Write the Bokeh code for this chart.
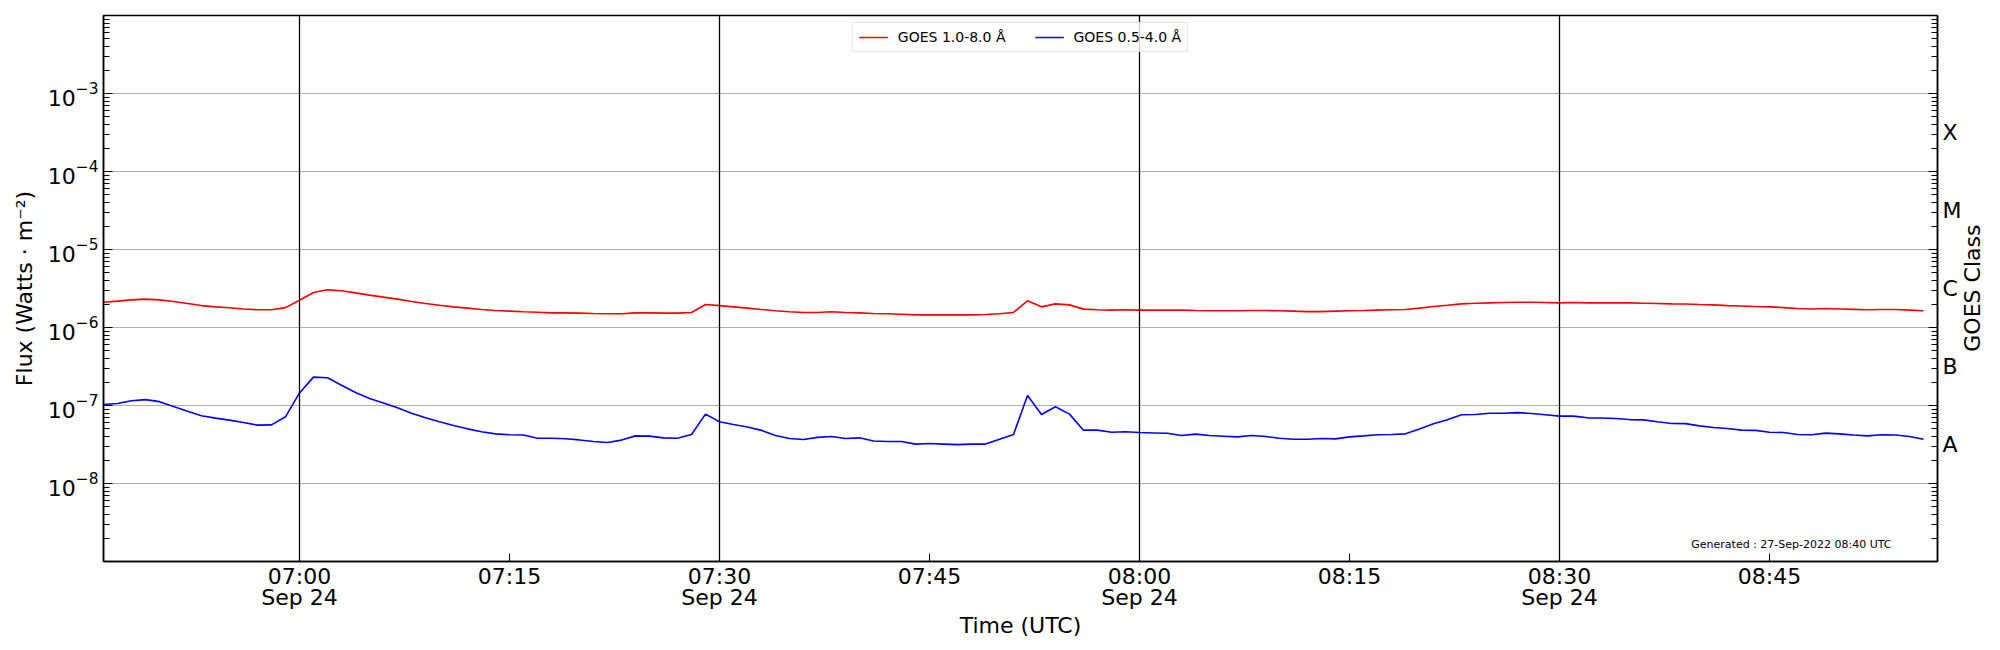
import math
import pandas as pd
from bokeh.plotting import figure
from bokeh.models import (Range1d, FixedTicker, LogAxis, Span, Legend, LegendItem,
                          Label, ColumnDataSource)
from bokeh.embed import file_html
from bokeh.resources import INLINE

# ---------------- data ----------------
start_time = "2022-09-24 06:46"
end_time = "2022-09-24 08:57"
n_minutes = 131

# GOES 1.0-8.0 A flux, W m^-2 (x 1e-6)
long_flux_e6 = [
    2.11, 2.18, 2.26, 2.31, 2.26, 2.15, 2.03, 1.91, 1.84, 1.79, 1.73, 1.69, 1.69, 1.80,
    2.24, 2.81, 3.04, 2.96, 2.78, 2.60, 2.45, 2.31, 2.15, 2.03, 1.93, 1.84, 1.77, 1.70,
    1.65, 1.62, 1.59, 1.57, 1.54,
    1.54, 1.53, 1.51, 1.50, 1.50, 1.54, 1.54, 1.53, 1.53, 1.56, 1.97, 1.91, 1.84, 1.77,
    1.70, 1.64, 1.59, 1.56, 1.56, 1.59, 1.56, 1.54, 1.51, 1.50, 1.48, 1.45, 1.45, 1.45,
    1.45, 1.45, 1.47, 1.50, 1.56,
    2.20, 1.84, 2.01, 1.95, 1.72, 1.69, 1.67, 1.69, 1.67, 1.67, 1.67, 1.67, 1.65, 1.64,
    1.64, 1.64, 1.65, 1.65, 1.64, 1.62, 1.60, 1.60, 1.62, 1.64, 1.65, 1.67, 1.69, 1.70,
    1.77, 1.86, 1.93, 2.01, 2.05,
    2.07, 2.09, 2.11, 2.11, 2.09, 2.07, 2.09, 2.07, 2.07, 2.07, 2.07, 2.05, 2.03, 2.01,
    2.00, 1.97, 1.95, 1.91, 1.89, 1.86, 1.84, 1.80, 1.75, 1.73, 1.75, 1.73, 1.71, 1.69,
    1.70, 1.70, 1.67, 1.64,
]

# GOES 0.5-4.0 A flux, W m^-2 (x 1e-8)
short_flux_e8 = [
    10.3, 10.6, 11.5, 11.9, 11.2, 9.7, 8.45, 7.38, 6.89, 6.49, 6.06, 5.60, 5.65, 7.16,
    14.5, 23.1, 22.7, 18.2, 14.7, 12.3, 10.8, 9.33, 7.97, 6.95, 6.18, 5.55, 5.02, 4.60,
    4.33, 4.22, 4.18, 3.81, 3.81,
    3.74, 3.62, 3.45, 3.35, 3.60, 4.08, 4.05, 3.85, 3.80, 4.25, 7.75, 6.18, 5.70, 5.30,
    4.80, 4.12, 3.77, 3.67, 3.90, 4.00, 3.77, 3.85, 3.50, 3.45, 3.45, 3.20, 3.25, 3.20,
    3.15, 3.20, 3.20, 3.70, 4.25,
    13.4, 7.67, 9.62, 7.75, 4.83, 4.83, 4.55, 4.60, 4.50, 4.45, 4.40, 4.12, 4.30, 4.12,
    4.04, 3.96, 4.12, 4.00, 3.81, 3.70, 3.70, 3.77, 3.73, 3.96, 4.08, 4.22, 4.25, 4.33,
    4.98, 5.82, 6.55, 7.60, 7.67,
    7.97, 7.97, 8.10, 7.90, 7.60, 7.30, 7.30, 6.95, 6.90, 6.80, 6.60, 6.55, 6.18, 5.88,
    5.85, 5.48, 5.22, 5.08, 4.83, 4.80, 4.55, 4.50, 4.25, 4.22, 4.43, 4.33, 4.18, 4.08,
    4.22, 4.18, 4.00, 3.70,
]

x_tick_times = ["07:00", "07:15", "07:30", "07:45", "08:00", "08:15", "08:30", "08:45"]
x_tick_labels = ["07:00\nSep 24", "07:15", "07:30\nSep 24", "07:45",
                 "08:00\nSep 24", "08:15", "08:30\nSep 24", "08:45"]
day_mark_times = ["07:00", "07:30", "08:00", "08:30"]

y_decades = [-8, -7, -6, -5, -4, -3]
goes_classes = ["A", "B", "C", "M", "X"]
goes_class_exponents = [-7.5, -6.5, -5.5, -4.5, -3.5]

legend_labels = ["GOES 1.0-8.0 Å", "GOES 0.5-4.0 Å"]
series_colors = ["#ff0000", "#0000ff"]
generated_text = "Generated : 27-Sep-2022 08:40 UTC"
right_title = "GOES Class"

# ---------------- helpers ----------------
def ms(hhmm):
    return float(pd.Timestamp("2022-09-24 " + hhmm).value // 10**6)

times = pd.date_range(start_time, periods=n_minutes, freq="1min")
src = ColumnDataSource(dict(
    t=times,
    long=[v * 1e-6 for v in long_flux_e6],
    short=[v * 1e-8 for v in short_flux_e8],
))

FONT = "DejaVu Sans"
FS = "22px"
FW, FH = 1834, 546

p = figure(x_axis_type="datetime", y_axis_type="log",
           frame_width=FW, frame_height=FH,
           min_border_left=103, min_border_top=15, min_border_right=56, min_border_bottom=80,
           x_range=Range1d(float(pd.Timestamp(start_time).value // 10**6),
                           float(pd.Timestamp(end_time).value // 10**6)),
           y_range=Range1d(1e-9, 1e-2),
           output_backend="svg", toolbar_location=None)

p.outline_line_color = "black"
p.outline_line_width = 1.5
p.background_fill_color = "white"
p.border_fill_color = "white"

def style_text(ax):
    ax.axis_label_text_font = FONT
    ax.axis_label_text_font_size = FS
    ax.axis_label_text_font_style = "normal"
    ax.axis_label_text_color = "black"
    ax.major_label_text_font = FONT
    ax.major_label_text_font_size = FS
    ax.major_label_text_color = "black"

def no_ticks(ax):
    ax.major_tick_in = 0
    ax.major_tick_out = 0
    ax.minor_tick_in = 0
    ax.minor_tick_out = 0
    ax.axis_line_color = None

# ---- x axis
xt = [ms(t) for t in x_tick_times]
xa = p.xaxis[0]
style_text(xa)
xa.ticker = FixedTicker(ticks=xt, minor_ticks=[])
xa.major_label_overrides = {v: lab for v, lab in zip(xt, x_tick_labels)}
xa.axis_label = "Time (UTC)"
xa.axis_label_standoff = 0
xa.major_label_standoff = 2
xa.major_label_text_line_height = 0.85
xa.major_tick_in = 8
xa.major_tick_out = 0
xa.minor_tick_in = 0
xa.minor_tick_out = 0
xa.axis_line_color = "black"
xa.axis_line_width = 1.5
p.xgrid.visible = False

# ---- left y axis
minor_vals = [m * 10.0 ** k for k in range(-9, -2) for m in range(2, 10)]
ya = p.yaxis[0]
style_text(ya)
ya.ticker = FixedTicker(ticks=[10.0 ** e for e in y_decades], minor_ticks=minor_vals)
ya.axis_label = "Flux (Watts · m⁻²)"
ya.axis_label_standoff = 8
ya.major_label_standoff = 5
ya.major_tick_in = 9
ya.major_tick_out = 0
ya.minor_tick_in = 6
ya.minor_tick_out = 0
ya.axis_line_color = "black"
ya.axis_line_width = 1.5
p.ygrid.grid_line_color = "#b0b0b0"
p.ygrid.grid_line_width = 1.2

# ---- right: mirrored ticks
ra = LogAxis(ticker=FixedTicker(ticks=[10.0 ** e for e in y_decades], minor_ticks=minor_vals))
ra.major_label_overrides = {10.0 ** e: "" for e in y_decades}
ra.major_label_text_font_size = "1px"
ra.major_label_standoff = 0
ra.major_tick_in = 9
ra.major_tick_out = 0
ra.minor_tick_in = 6
ra.minor_tick_out = 0
ra.axis_line_color = "black"
ra.axis_line_width = 1.5
p.add_layout(ra, "right")

# ---- right: GOES class letters
ca = LogAxis(ticker=FixedTicker(ticks=[10.0 ** e for e in goes_class_exponents], minor_ticks=[]))
style_text(ca)
no_ticks(ca)
ca.major_label_overrides = {10.0 ** e: c for e, c in zip(goes_class_exponents, goes_classes)}
ca.major_label_standoff = 5
p.add_layout(ca, "right")

# ---- right: "GOES Class" title (rotated, reading upwards), drawn as one rotated tick label
title_anchor = 10.0 ** -6.31
ta = LogAxis(ticker=FixedTicker(ticks=[title_anchor], minor_ticks=[]))
style_text(ta)
no_ticks(ta)
ta.major_label_overrides = {title_anchor: right_title}
ta.major_label_orientation = math.pi / 2
ta.major_label_standoff = 8
p.add_layout(ta, "right")

# ---- vertical day-mark lines
for t in day_mark_times:
    p.add_layout(Span(location=ms(t), dimension="height", line_color="black", line_width=1.3))

# ---- series
r_long = p.line("t", "long", source=src, line_color=series_colors[0], line_width=1.6)
r_short = p.line("t", "short", source=src, line_color=series_colors[1], line_width=1.6)

legend = Legend(items=[LegendItem(label=legend_labels[0], renderers=[r_long]),
                       LegendItem(label=legend_labels[1], renderers=[r_short])],
                location="top_center", orientation="horizontal")
legend.label_text_font = FONT
legend.label_text_font_size = "14px"
legend.label_text_color = "black"
legend.glyph_width = 29
legend.glyph_height = 14
legend.label_standoff = 10
legend.spacing = 29
legend.padding = 6
legend.margin = 7
legend.border_line_color = "#cccccc"
legend.border_line_width = 1
legend.background_fill_alpha = 0.8
p.add_layout(legend, "center")

p.add_layout(Label(x=1788, y=11, x_units="screen", y_units="screen", text=generated_text,
                   text_font=FONT, text_font_size="11px", text_align="right",
                   text_baseline="bottom", text_color="black"))

open("out.html", "w").write(file_html(p, INLINE))
